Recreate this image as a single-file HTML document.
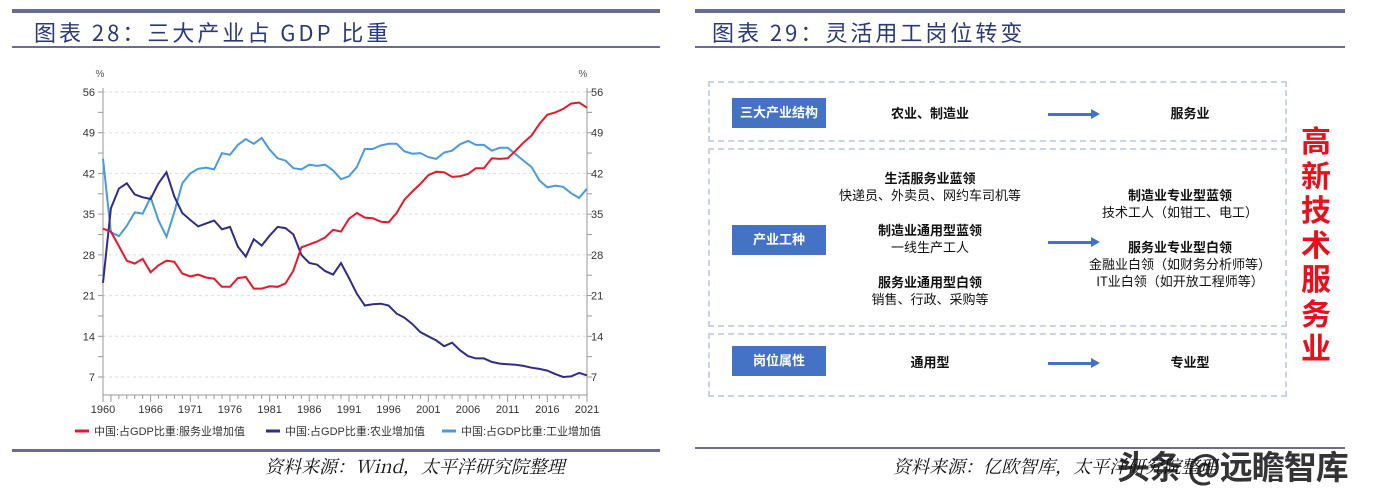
<!DOCTYPE html>
<html><head><meta charset="utf-8"><style>
body{margin:0;width:1388px;height:494px;background:#fff;position:relative;overflow:hidden;font-family:"Liberation Sans","Noto Sans CJK SC",sans-serif}
.a{position:absolute}
.bar{position:absolute;background:#6b6b94}
.title{position:absolute;font-family:"Noto Sans CJK SC",sans-serif;font-size:22px;color:#2a3a78;letter-spacing:3px;line-height:26px}
.src{position:absolute;font-family:"Noto Serif CJK SC",serif;font-style:italic;font-size:18px;color:#111;line-height:22px}
.bx{position:absolute;background:#4472c4;color:#fff;font-size:13px;font-weight:bold;text-align:center;line-height:30px;width:94px;height:30px}
.t{position:absolute;font-size:13px;color:#111;text-align:center;line-height:17px;font-family:"Noto Sans CJK SC",sans-serif}
.t b{font-weight:bold}
.sec{position:absolute;border:2px dashed #c9d3e6}
.arr{position:absolute;height:3px;background:#4472c4;width:44px}
.arr:after{content:"";position:absolute;right:-8px;top:-4px;border-left:9px solid #4472c4;border-top:5.5px solid transparent;border-bottom:5.5px solid transparent}
</style></head><body>
<div class="bar" style="left:12px;top:9px;width:648px;height:4px"></div>
<div class="title" style="left:34px;top:19px">图表 28：三大产业占 GDP 比重</div>
<div class="bar" style="left:12px;top:46px;width:648px;height:2px"></div>
<div class="bar" style="left:12px;top:449px;width:648px;height:3px"></div>
<div class="src" style="left:265px;top:455px">资料来源：Wind，太平洋研究院整理</div>

<svg class="a" style="left:0;top:0" width="680" height="450" id="ch"></svg>

<div class="bar" style="left:695px;top:9px;width:650px;height:4px"></div>
<div class="title" style="left:712px;top:19px">图表 29：灵活用工岗位转变</div>
<div class="bar" style="left:695px;top:46px;width:650px;height:2px"></div>
<div class="bar" style="left:695px;top:447px;width:650px;height:2px"></div>
<div class="src" style="left:893px;top:455px">资料来源：亿欧智库，太平洋研究院整理</div>
<div class="a" style="left:1117px;top:443px;font-size:33px;color:#111;font-family:'Noto Sans CJK SC',sans-serif;line-height:44px;font-weight:bold;opacity:.85;letter-spacing:-1px">头条 @远瞻智库</div>

<div class="sec" style="left:708px;top:81px;width:575px;height:57px"></div>
<div class="sec" style="left:708px;top:148px;width:575px;height:175px"></div>
<div class="sec" style="left:708px;top:333px;width:575px;height:60px"></div>
<div class="bx" style="left:732px;top:98px">三大产业结构</div>
<div class="bx" style="left:732px;top:225px">产业工种</div>
<div class="bx" style="left:732px;top:346px">岗位属性</div>
<div class="t" style="left:860px;top:104px;width:140px"><b>农业、制造业</b></div>
<div class="t" style="left:1140px;top:104px;width:100px"><b>服务业</b></div>
<div class="t" style="left:860px;top:353px;width:140px"><b>通用型</b></div>
<div class="t" style="left:1140px;top:353px;width:100px"><b>专业型</b></div>
<div class="arr" style="left:1048px;top:113px"></div>
<div class="arr" style="left:1048px;top:241px"></div>
<div class="arr" style="left:1048px;top:362px"></div>
<div class="t" style="left:830px;top:169px;width:200px"><b>生活服务业蓝领</b><br>快递员、外卖员、网约车司机等</div>
<div class="t" style="left:830px;top:221px;width:200px"><b>制造业通用型蓝领</b><br>一线生产工人</div>
<div class="t" style="left:830px;top:273px;width:200px"><b>服务业通用型白领</b><br>销售、行政、采购等</div>
<div class="t" style="left:1080px;top:186px;width:200px"><b>制造业专业型蓝领</b><br>技术工人（如钳工、电工）</div>
<div class="t" style="left:1080px;top:238px;width:200px"><b>服务业专业型白领</b><br>金融业白领（如财务分析师等）<br>IT业白领（如开放工程师等）</div>
<div class="a" style="left:1298px;top:122px;width:36px;font-size:30px;line-height:34.5px;font-weight:bold;color:#e8101a;font-family:'Noto Sans CJK SC',sans-serif;text-align:center">高新技术服务业</div>

<script>
var svg=document.getElementById('ch'),h='';
var AX=395;
function Y(v){return 92+(56-v)*285/49}function X(y){return 103+(y-1960)*484/61}
for(var v=7;v<=56;v+=7){var y=Y(v);
h+='<line x1="103" x2="587" y1="'+y+'" y2="'+y+'" stroke="#ddd" stroke-dasharray="3,3"/>';
h+='<text x="95" y="'+(y+4)+'" font-size="11" text-anchor="end" fill="#333">'+v+'</text>';
h+='<text x="591" y="'+(y+4)+'" font-size="11" fill="#333">'+v+'</text>';}
for(var v=0;v<=56;v+=3.5){var y=Y(v);if(y>AX)continue;h+='<line x1="98" x2="103" y1="'+y+'" y2="'+y+'" stroke="#999"/><line x1="587" x2="592" y1="'+y+'" y2="'+y+'" stroke="#999"/>';}
h+='<line x1="103" x2="103" y1="88" y2="'+AX+'" stroke="#999"/><line x1="587" x2="587" y1="88" y2="'+AX+'" stroke="#999"/><line x1="103" x2="587" y1="'+AX+'" y2="'+AX+'" stroke="#999"/>';
for(var yr=1960;yr<=2021;yr++){var x=X(yr);h+='<line x1="'+x+'" x2="'+x+'" y1="'+AX+'" y2="'+(AX+(yr%5==1||yr==1960?7:4))+'" stroke="#999"/>';}
[1960,1966,1971,1976,1981,1986,1991,1996,2001,2006,2011,2016,2021].forEach(function(yr){h+='<text x="'+X(yr)+'" y="413" font-size="11" text-anchor="middle" fill="#333">'+yr+'</text>'});
h+='<text x="100" y="77" font-size="10" text-anchor="middle" fill="#555">%</text><text x="583" y="77" font-size="10" text-anchor="middle" fill="#555">%</text>';
var S=[32.5,32,29.5,27,26.5,27.3,25,26.2,27,26.8,24.8,24.3,24.6,24.1,23.9,22.5,22.5,24,24.2,22.2,22.2,22.6,22.5,23.1,25.3,29.3,29.8,30.3,31,32.3,32,34.2,35.2,34.4,34.3,33.7,33.6,35.2,37.5,38.9,40.2,41.7,42.3,42.2,41.4,41.5,41.9,42.9,42.9,44.6,44.5,44.6,45.9,47.3,48.5,50.5,52.1,52.5,53.1,54,54.2,53.3];
var A=[23.2,36,39.4,40.3,38.4,37.9,37.6,40.3,42.2,38,35.2,34,32.9,33.4,33.9,32.4,32.8,29.4,27.7,30.7,29.6,31.3,32.8,32.6,31.5,28,26.6,26.3,25.2,24.6,26.6,24,21.3,19.3,19.5,19.6,19.3,17.9,17.2,16.1,14.7,14,13.3,12.3,12.9,11.6,10.6,10.2,10.2,9.6,9.3,9.2,9.1,8.9,8.6,8.4,8.1,7.5,7,7.1,7.7,7.3];
var I=[44.5,31.9,31.2,33,35.3,35.1,37.9,33.9,31.1,35.4,40.3,42,42.8,43,42.7,45.5,45.2,46.9,47.9,47.1,48.1,46.1,44.6,44.2,42.9,42.7,43.5,43.3,43.5,42.5,41,41.5,43.1,46.2,46.2,46.8,47.1,47.1,45.8,45.4,45.5,44.8,44.5,45.6,45.9,47,47.6,46.9,46.9,45.9,46.4,46.4,45.3,44.2,43.1,40.8,39.6,39.9,39.7,38.6,37.8,39.4];
function P(d,c){return '<polyline fill="none" stroke="'+c+'" stroke-width="2" points="'+d.map(function(v,i){return X(1960+i).toFixed(1)+','+Y(v).toFixed(1)}).join(' ')+'"/>'}
h+=P(I,'#4a9ae0')+P(A,'#2e2e8a')+P(S,'#e8182c');
var L=[['#e8182c','中国:占GDP比重:服务业增加值',75],['#2e2e8a','中国:占GDP比重:农业增加值',266],['#4a9ae0','中国:占GDP比重:工业增加值',442]];
L.forEach(function(l){h+='<line x1="'+l[2]+'" x2="'+(l[2]+14)+'" y1="431" y2="431" stroke="'+l[0]+'" stroke-width="3"/><text x="'+(l[2]+19)+'" y="435" font-size="11" fill="#333">'+l[1]+'</text>'});
svg.innerHTML=h;
</script>
</body></html>
